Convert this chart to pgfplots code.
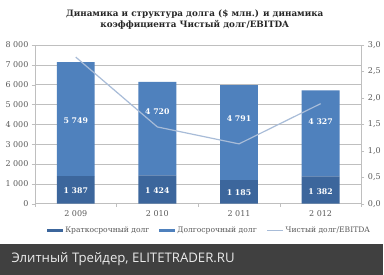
\documentclass[border=0pt]{standalone}
\usepackage{fontspec}
\setmainfont{DejaVu Serif}
\newfontfamily\bannerfont{Open Sans}
\usepackage{pgfplots}
\pgfplotsset{compat=1.18}
\definecolor{longc}{HTML}{4F81BD}
\definecolor{shortc}{HTML}{3C669C}
\definecolor{linec}{HTML}{A8BCD8}
\definecolor{gridc}{HTML}{BFBFBF}
\definecolor{txtc}{HTML}{595959}
\definecolor{banner}{HTML}{404040}
\begin{document}
\begin{tikzpicture}[x=1pt,y=1pt]
\fill[white] (0,0) rectangle (384,275);
\fill[banner] (0,0) rectangle (384,31);
\node[anchor=west,text=white!92!black,font=\bannerfont\fontsize{13.2}{15}\selectfont] at (8,15) {Элитный Трейдер, ELITETRADER.RU};
\node[align=center,font=\bfseries\fontsize{8.8}{11.5}\selectfont,text=black!85] at (195,255.5) {Динамика и структура долга (\$ млн.) и динамика\\коэффициента Чистый долг/EBITDA};
\begin{axis}[
  at={(35pt,71pt)}, anchor=south west,
  width=327pt, height=159pt, scale only axis,
  xmin=-0.5, xmax=3.5, ymin=0, ymax=8000,
  ybar stacked, bar width=38pt,
  axis x line*=bottom, axis y line*=left,
  axis line style={gridc},
  tick align=outside,
  xtick={0,1,2,3}, xticklabels={2 009,2 010,2 011,2 012},
  major x tick style={draw=none},
  minor xtick={-0.5,0.5,1.5,2.5,3.5},
  minor x tick style={gridc}, minor tick length=3pt,
  ytick={0,1000,...,8000},
  yticklabels={0,1 000,2 000,3 000,4 000,5 000,6 000,7 000,8 000},
  y tick style={gridc}, major tick length=3pt,
  ymajorgrids, grid style={gridc},
  ticklabel style={font=\fontsize{8}{9}\selectfont, text=txtc},
  legend style={at={(0.535,-0.17)}, anchor=center, draw=none, fill=none,
    legend columns=3, font=\fontsize{7.6}{9}\selectfont, text=txtc,
    /tikz/every even column/.append style={column sep=8pt}},
  legend cell align=left,
]
\addplot[fill=shortc, draw=none, legend image code/.code={\fill[shortc] (0pt,-1.5pt) rectangle (16pt,1.5pt);}] coordinates {(0,1387) (1,1424) (2,1185) (3,1382)};
\addlegendentry{Краткосрочный долг}
\addplot[fill=longc, draw=none, legend image code/.code={\fill[longc] (0pt,-1.5pt) rectangle (16pt,1.5pt);}] coordinates {(0,5749) (1,4720) (2,4791) (3,4327)};
\addlegendentry{Долгосрочный долг}
\addlegendimage{legend image code/.code={\draw[linec, line width=1pt] (0pt,0pt) -- (16pt,0pt);}}
\addlegendentry{Чистый долг/EBITDA}
\end{axis}
\begin{axis}[
  at={(35pt,71pt)}, anchor=south west,
  width=327pt, height=159pt, scale only axis,
  xmin=-0.5, xmax=3.5, ymin=0, ymax=3,
  axis x line=none, axis y line*=right,
  axis line style={gridc},
  tick align=outside, major tick length=3pt,
  ytick={0,0.5,...,3},
  yticklabels={{0,0},{0,5},{1,0},{1,5},{2,0},{2,5},{3,0}},
  y tick style={gridc},
  ticklabel style={font=\fontsize{8}{9}\selectfont, text=txtc},
]
\addplot[linec, line width=1.2pt, mark=none] coordinates {(0,2.77) (1,1.45) (2,1.13) (3,1.89)};
\end{axis}
\begin{axis}[
  at={(35pt,71pt)}, anchor=south west,
  width=327pt, height=159pt, scale only axis,
  xmin=-0.5, xmax=3.5, ymin=0, ymax=8000,
  hide axis,
]
\addplot[draw=none, mark=none, nodes near coords, point meta=explicit symbolic,
  every node near coord/.append style={anchor=center, text=white, font=\bfseries\fontsize{7.8}{9}\selectfont}]
  table[meta=lab, col sep=comma] {
x,y,lab
0,650,1 387
1,650,1 424
2,550,1 185
3,600,1 382
0,4200,5 749
1,4650,4 720
2,4300,4 791
3,4150,4 327
};
\end{axis}
\end{tikzpicture}
\end{document}
